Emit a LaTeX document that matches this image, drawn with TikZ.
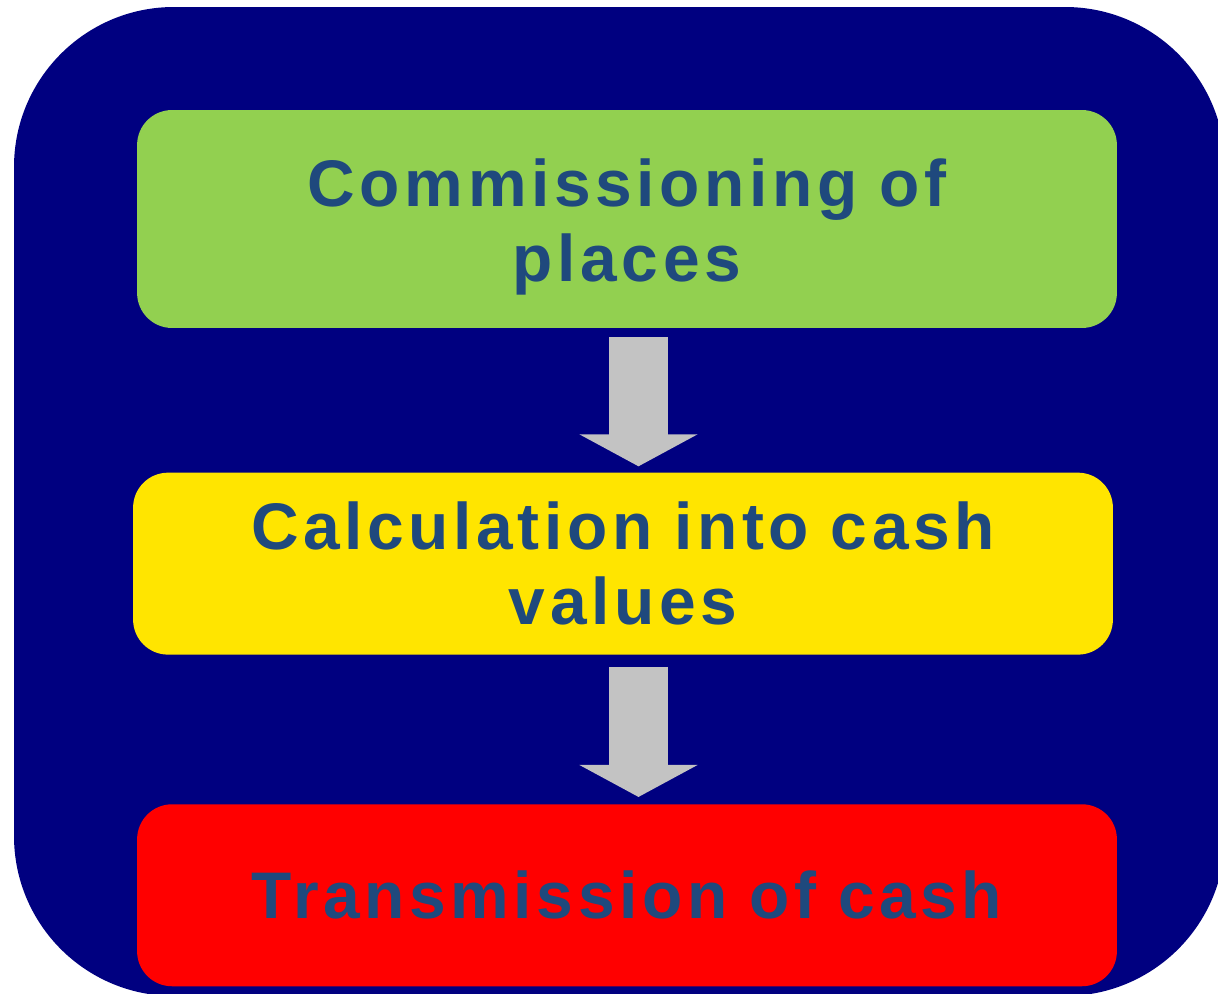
\documentclass[tikz,border=0pt]{standalone}
\usepackage{fontspec}
\setmainfont{Liberation Sans}
\newfontfamily\stepfont[LetterSpace=7]{Liberation Sans}
\usepackage{xcolor}
\usetikzlibrary{arrows.meta,positioning}
\definecolor{frameblue}{HTML}{000080}
\definecolor{stepgreen}{HTML}{92D050}
\definecolor{stepyellow}{HTML}{FFE500}
\definecolor{stepred}{HTML}{FF0000}
\definecolor{textblue}{HTML}{1F497D}
\definecolor{arrowgray}{HTML}{C3C3C3}

\begin{document}
\begin{tikzpicture}[x=0.02cm,y=-0.02cm,
  stepbox/.style={rounded corners=0.7cm,minimum width=19.6cm,minimum height=3.64cm,
    inner sep=0pt,text width=19cm,align=center,text=textblue,
    font=\stepfont\bfseries\fontsize{37.5}{42.5}\selectfont},
  flow/.style={draw=arrowgray,line width=1.18cm,
    -{Triangle[length=0.64cm,width=2.34cm]}}]
\useasboundingbox (0,0) rectangle (1218,994);
\fill[frameblue,rounded corners=3.2cm] (14,7) rectangle (1225,996);
\node[stepbox,fill=stepgreen,minimum height=4.36cm] (places) at (627,219) {\rule{0pt}{36.5pt}Commissioning of\\places};
\node[stepbox,fill=stepyellow,below=2.88cm of places,xshift=-0.08cm] (values) {Calculation into cash\\values};
\node[stepbox,fill=stepred,below=2.98cm of values,xshift=0.08cm] (cash) {Transmission of cash};
\coordinate (a1) at ([xshift=0.23cm]places.south);
\coordinate (a2) at ([xshift=0.31cm]values.south);
\draw[flow,shorten <=0.18cm,shorten >=0.12cm] (a1) -- (a1 |- values.north);
\draw[flow,shorten <=0.24cm,shorten >=0.14cm] (a2) -- (a2 |- cash.north);
\end{tikzpicture}
\end{document}
